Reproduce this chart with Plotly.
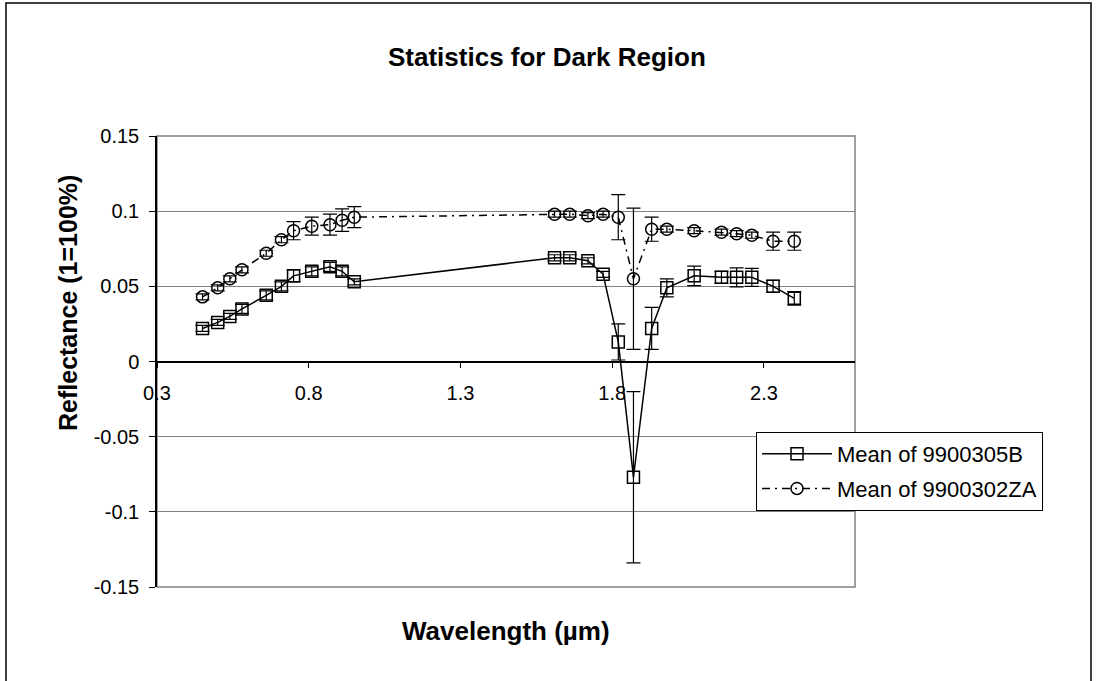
import plotly.graph_objects as go

# Wavelengths (µm) shared by both samples
wavelength = [0.45, 0.50, 0.54, 0.58, 0.66, 0.71, 0.75, 0.81, 0.87, 0.91, 0.95,
              1.61, 1.66, 1.72, 1.77, 1.82, 1.87, 1.93, 1.98, 2.07, 2.16, 2.21,
              2.26, 2.33, 2.40]

# Mean reflectance and error (±) for sample 9900305B
mean_305b = [0.022, 0.026, 0.030, 0.035, 0.044, 0.050, 0.057, 0.060, 0.063, 0.060, 0.053,
             0.069, 0.069, 0.067, 0.058, 0.013, -0.077, 0.022, 0.049, 0.057, 0.056, 0.056,
             0.056, 0.050, 0.042]
err_305b = [0.002, 0.002, 0.002, 0.003, 0.003, 0.003, 0.004, 0.003, 0.003, 0.003, 0.002,
            0.002, 0.002, 0.002, 0.002, 0.012, 0.057, 0.014, 0.006, 0.0065, 0.004, 0.0063,
            0.006, 0.004, 0.0045]

# Mean reflectance and error (±) for sample 9900302ZA
mean_302za = [0.043, 0.049, 0.055, 0.061, 0.072, 0.081, 0.087, 0.090, 0.091, 0.094, 0.096,
              0.098, 0.098, 0.097, 0.098, 0.096, 0.055, 0.088, 0.088, 0.087, 0.086, 0.085,
              0.084, 0.080, 0.080]
err_302za = [0.002, 0.002, 0.002, 0.002, 0.002, 0.002, 0.006, 0.006, 0.007, 0.0075, 0.007,
             0.002, 0.002, 0.002, 0.002, 0.015, 0.047, 0.008, 0.002, 0.002, 0.002, 0.002,
             0.002, 0.006, 0.006]

series_names = ["Mean of 9900305B", "Mean of 9900302ZA"]
x_ticks = [0.3, 0.8, 1.3, 1.8, 2.3]
y_ticks = [-0.15, -0.1, -0.05, 0, 0.05, 0.1, 0.15]
y_tick_text = ["-0.15", "-0.1", "-0.05", "0", "0.05", "0.1", "0.15"]

W, H = 1097, 681
ML, MR, MT, MB = 157, 242, 136, 94
PW, PH = W - ML - MR, H - MT - MB
FONT = "Arial, Liberation Sans, sans-serif"


def px(x):
    return (x - ML) / PW


def py(y):
    return (H - MB - y) / PH


fig = go.Figure()

fig.add_trace(go.Scatter(
    x=wavelength, y=mean_305b, name=series_names[0], mode="lines+markers",
    legendgroup="a",
    line=dict(color="black", width=1.5),
    marker=dict(symbol="square-open", size=12, color="black", line=dict(width=1.5)),
    error_y=dict(type="data", array=err_305b, visible=True, color="black",
                 thickness=1.2, width=7),
))

fig.add_trace(go.Scatter(
    x=wavelength, y=mean_302za, name=series_names[1], mode="lines+markers",
    legendgroup="b",
    line=dict(color="black", width=1.5, dash="8px,5px,2px,5px"),
    marker=dict(symbol="circle-open", size=12, color="black", line=dict(width=1.5)),
    error_y=dict(type="data", array=err_302za, visible=True, color="black",
                 thickness=1.2, width=7),
))

# Plot area frame and outer chart border
shapes = [
    dict(type="rect", xref="paper", yref="paper", x0=0, y0=0, x1=1, y1=1,
         line=dict(color="#808080", width=1.5), layer="below"),
    dict(type="rect", xref="paper", yref="paper", x0=px(6), y0=py(690), x1=px(1091), y1=py(3),
         line=dict(color="black", width=1.5)),
]

annotations = [
    dict(text="<b>Statistics for Dark Region</b>", xref="paper", yref="paper",
         x=px(547), y=py(57), xanchor="center", yanchor="middle", showarrow=False,
         font=dict(family=FONT, size=26, color="black")),
    dict(text="<b>Wavelength (µm)</b>", xref="paper", yref="paper",
         x=px(506), y=py(631), xanchor="center", yanchor="middle", showarrow=False,
         font=dict(family=FONT, size=26, color="black")),
    dict(text="<b>Reflectance (1=100%)</b>", xref="paper", yref="paper",
         x=px(68), y=py(303), xanchor="center", yanchor="middle", showarrow=False,
         textangle=-90, font=dict(family=FONT, size=25, color="black")),
]

fig.update_layout(
    width=W, height=H,
    margin=dict(l=ML, r=MR, t=MT, b=MB, pad=0),
    paper_bgcolor="white", plot_bgcolor="white",
    font=dict(family=FONT, color="black"),
    showlegend=True,
    legend=dict(x=px(756), y=py(432), xanchor="left", yanchor="top",
                bgcolor="white", bordercolor="black", borderwidth=1,
                font=dict(family=FONT, size=22, color="black"),
                itemwidth=70, tracegroupgap=3),
    shapes=shapes,
    annotations=annotations,
    xaxis=dict(range=[0.3, 2.6], tickvals=x_ticks, ticktext=[str(v) for v in x_ticks],
               showgrid=False, zeroline=False, showline=True, linecolor="black", linewidth=1.5,
               ticks="outside", ticklen=6, tickcolor="black", tickwidth=1,
               anchor="free", position=0.5, ticklabelstandoff=8,
               tickfont=dict(family=FONT, size=20, color="black")),
    yaxis=dict(range=[-0.15, 0.15], tickvals=y_ticks, ticktext=y_tick_text,
               showgrid=True, gridcolor="#808080", gridwidth=1, zeroline=False,
               showline=True, linecolor="black", linewidth=1.5,
               ticks="outside", ticklen=6, tickcolor="black", tickwidth=1,
               ticklabelstandoff=6,
               tickfont=dict(family=FONT, size=20, color="black")),
)

fig.write_html("out.html")
